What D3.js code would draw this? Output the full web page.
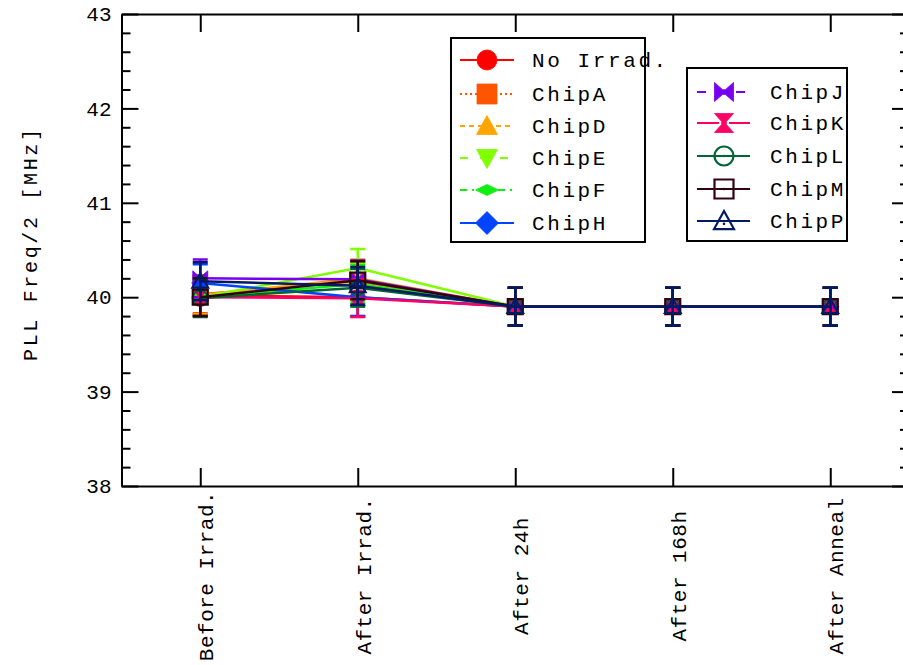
<!DOCTYPE html>
<html>
<head>
<meta charset="utf-8">
<script src="https://cdn.jsdelivr.net/npm/d3@7"></script>
<style>
  html, body { margin: 0; padding: 0; background: #fff; }
  svg { display: block; }
  text { font-family: "Liberation Mono", "DejaVu Sans Mono", monospace; fill: #000; }
</style>
</head>
<body>
<svg id="chart" width="903" height="665"></svg>
<script>
// Measurement stages
const stages = ["Before Irrad.", "After Irrad.", "After 24h", "After 168h", "After Anneal"];

// PLL frequency / 2 [MHz] per chip at each stage
const noIrrad = [40.02, 40.00, 39.90, 39.90, 39.90];
const chipA   = [40.03, 40.17, 39.90, 39.90, 39.90];
const chipD   = [40.02, 40.20, 39.90, 39.90, 39.90];
const chipE   = [40.00, 40.31, 39.90, 39.90, 39.90];
const chipF   = [40.00, 40.14, 39.90, 39.90, 39.90];
const chipH   = [40.15, 40.00, 39.90, 39.90, 39.90];
const chipJ   = [40.20, 40.19, 39.90, 39.90, 39.90];
const chipK   = [40.00, 39.99, 39.90, 39.90, 39.90];
const chipL   = [39.99, 40.10, 39.90, 39.90, 39.90];
const chipM   = [40.00, 40.18, 39.90, 39.90, 39.90];
const chipP   = [40.17, 40.12, 39.90, 39.90, 39.90];

// Measurement uncertainty (same for every stage)
const errors  = [0.20, 0.20, 0.20, 0.20, 0.20];

// Axis ticks
const yMajorTicks = [38, 39, 40, 41, 42, 43];

const series = [
  { name: "No Irrad.", values: noIrrad, color: "#ff0000", dash: null,        marker: "circle" },
  { name: "ChipA",     values: chipA,   color: "#ff5500", dash: "2,3",       marker: "square" },
  { name: "ChipD",     values: chipD,   color: "#ffa500", dash: "5,4",       marker: "triUp" },
  { name: "ChipE",     values: chipE,   color: "#80ff00", dash: "8,12",      marker: "triDown" },
  { name: "ChipF",     values: chipF,   color: "#11ee11", dash: "7,5,2,5",   marker: "flatDiamond" },
  { name: "ChipH",     values: chipH,   color: "#0044ff", dash: null,        marker: "diamond" },
  { name: "ChipJ",     values: chipJ,   color: "#7700ee", dash: "9,30",      marker: "bowtie" },
  { name: "ChipK",     values: chipK,   color: "#ff0066", dash: "22,10",     marker: "hourglass" },
  { name: "ChipL",     values: chipL,   color: "#006633", dash: null,        marker: "openCircle" },
  { name: "ChipM",     values: chipM,   color: "#330011", dash: null,        marker: "openSquare" },
  { name: "ChipP",     values: chipP,   color: "#001a66", dash: null,        marker: "openTriangle" }
];

const svg = d3.select("#chart");
const W = 903, H = 665;
const plot = { left: 121.5, right: 909, top: 14, bottom: 486 };

const x = d3.scalePoint().domain(stages).range([plot.left, plot.right]).padding(0.5);
const y = d3.scaleLinear().domain([38, 43]).range([plot.bottom, plot.top]);

// Minor ticks every 0.2 MHz
const yMinorTicks = d3.range(38, 43.0001, 0.2).map(v => +v.toFixed(1)).filter(v => !yMajorTicks.includes(v));

// Marker path generator, s = half-size
function markerPath(type, s) {
  const p = d3.path();
  switch (type) {
    case "circle":
    case "openCircle":
      p.arc(0, 0, s, 0, 2 * Math.PI); p.closePath(); break;
    case "square":
    case "openSquare":
      p.rect(-s, -s, 2 * s, 2 * s); break;
    case "triUp":
    case "openTriangle":
      p.moveTo(0, -s * 1.05); p.lineTo(s * 1.05, s * 0.85); p.lineTo(-s * 1.05, s * 0.85); p.closePath(); break;
    case "triDown":
      p.moveTo(0, s * 1.05); p.lineTo(s * 1.05, -s * 0.85); p.lineTo(-s * 1.05, -s * 0.85); p.closePath(); break;
    case "flatDiamond":
      p.moveTo(-s * 1.15, 0); p.lineTo(0, -s * 0.55); p.lineTo(s * 1.15, 0); p.lineTo(0, s * 0.55); p.closePath(); break;
    case "diamond":
      p.moveTo(-s * 1.15, 0); p.lineTo(0, -s * 1.15); p.lineTo(s * 1.15, 0); p.lineTo(0, s * 1.15); p.closePath(); break;
    case "bowtie":
      p.moveTo(-s, -s); p.lineTo(-s * 0.15, -s * 0.25); p.lineTo(s * 0.15, -s * 0.25); p.lineTo(s, -s);
      p.lineTo(s, s); p.lineTo(s * 0.15, s * 0.25); p.lineTo(-s * 0.15, s * 0.25); p.lineTo(-s, s); p.closePath(); break;
    case "hourglass":
      p.moveTo(-s, -s); p.lineTo(s, -s); p.lineTo(s * 0.25, -s * 0.15); p.lineTo(s * 0.25, s * 0.15);
      p.lineTo(s, s); p.lineTo(-s, s); p.lineTo(-s * 0.25, s * 0.15); p.lineTo(-s * 0.25, -s * 0.15); p.closePath(); break;
  }
  return p.toString();
}
const isOpen = t => t.startsWith("open");

function drawMarker(g, type, color, s, cx, cy) {
  const open = isOpen(type);
  const m = g.append("g").attr("transform", `translate(${cx},${cy})`);
  m.append("path")
    .attr("d", markerPath(type, s))
    .attr("fill", open ? "none" : color)
    .attr("stroke", color)
    .attr("stroke-width", open ? 2.2 : 0.8)
    .attr("stroke-linejoin", "miter");
  if (open) {
    m.append("circle").attr("cx", 0).attr("cy", type === "openTriangle" ? s * 0.3 : 0).attr("r", 1.3).attr("fill", color);
  }
}

// Clip region for the plot frame
svg.append("defs").append("clipPath").attr("id", "plotClip")
  .append("rect").attr("x", plot.left).attr("y", plot.top)
  .attr("width", plot.right - plot.left).attr("height", plot.bottom - plot.top);

const data = svg.append("g").attr("clip-path", "url(#plotClip)");
const line = d3.line().x((d, i) => x(stages[i])).y(d => y(d));
const capW = 7.5;

series.forEach(s => {
  const g = data.append("g");
  // error bars
  s.values.forEach((v, i) => {
    const cx = x(stages[i]);
    const e = errors[i];
    g.append("line").attr("x1", cx).attr("x2", cx).attr("y1", y(v - e)).attr("y2", y(v + e))
      .attr("stroke", s.color).attr("stroke-width", 2.5);
    [v - e, v + e].forEach(t => {
      g.append("line").attr("x1", cx - capW).attr("x2", cx + capW).attr("y1", y(t)).attr("y2", y(t))
        .attr("stroke", s.color).attr("stroke-width", 2.5);
    });
  });
  // connecting line
  g.append("path").datum(s.values).attr("d", line)
    .attr("fill", "none").attr("stroke", s.color).attr("stroke-width", 2.5);
  // markers
  s.values.forEach((v, i) => drawMarker(g, s.marker, s.color, 7.5, x(stages[i]), y(v)));
});

// Axes
const axes = svg.append("g");
axes.append("g").attr("transform", `translate(${plot.left},0)`)
  .call(d3.axisLeft(y).tickValues(yMajorTicks).tickSizeInner(-17).tickSizeOuter(0).tickPadding(10).tickFormat(d3.format("d")))
  .call(g => g.selectAll("text").style("font-size", "21px").attr("font-family", null));
axes.append("g").attr("transform", `translate(${plot.left},0)`)
  .call(d3.axisLeft(y).tickValues(yMinorTicks).tickSizeInner(-9).tickSizeOuter(0).tickFormat(""));
axes.append("g").attr("transform", `translate(${plot.right},0)`)
  .call(d3.axisRight(y).tickValues(yMajorTicks).tickSizeInner(-17).tickSizeOuter(0).tickFormat(""));
axes.append("g").attr("transform", `translate(${plot.right},0)`)
  .call(d3.axisRight(y).tickValues(yMinorTicks).tickSizeInner(-9).tickSizeOuter(0).tickFormat(""));
axes.append("g").attr("transform", `translate(0,${plot.bottom})`)
  .call(d3.axisBottom(x).tickSizeInner(-18).tickSizeOuter(0).tickFormat(""));
axes.append("g").attr("transform", `translate(0,${plot.top})`)
  .call(d3.axisTop(x).tickSizeInner(-18).tickSizeOuter(0).tickFormat(""));
axes.selectAll(".domain").attr("stroke", "#000").attr("stroke-width", 2);
axes.selectAll(".tick line").attr("stroke", "#000").attr("stroke-width", 2);

// Category labels (rotated)
svg.append("g").selectAll("text").data(stages).join("text")
  .attr("transform", d => `translate(${x(d) + 13},576) rotate(-90)`)
  .attr("text-anchor", "middle")
  .style("font-size", "21px")
  .style("letter-spacing", "0.5px")
  .text(d => d);

// Y axis title
svg.append("text")
  .attr("transform", "translate(37,245) rotate(-90)")
  .attr("text-anchor", "middle")
  .style("font-size", "20px")
  .attr("textLength", 232)
  .attr("lengthAdjust", "spacing")
  .text("PLL Freq/2 [MHz]");

// Legends
function drawLegend(items, box, rows, lineX, markerX, textX, clipText, mSize) {
  const g = svg.append("g");
  const id = "lg" + Math.round(box.x);
  if (clipText) {
    svg.select("defs").append("clipPath").attr("id", id)
      .append("rect").attr("x", box.x).attr("y", box.y).attr("width", box.w).attr("height", box.h);
  }
  g.append("rect").attr("x", box.x).attr("y", box.y).attr("width", box.w).attr("height", box.h)
    .attr("fill", "#fff").attr("stroke", "none");
  items.forEach((s, i) => {
    const cy = rows[i];
    g.append("line").attr("x1", lineX[0]).attr("x2", lineX[1]).attr("y1", cy).attr("y2", cy)
      .attr("stroke", s.color).attr("stroke-width", 2).attr("stroke-dasharray", s.dash);
    drawMarker(g, s.marker, s.color, mSize, markerX, cy);
    const t = g.append("text").attr("x", textX).attr("y", cy + 7)
      .style("font-size", "21px").style("letter-spacing", "2.6px").text(s.name);
    if (clipText) t.attr("clip-path", `url(#${id})`);
  });
  g.append("rect").attr("x", box.x).attr("y", box.y).attr("width", box.w).attr("height", box.h)
    .attr("fill", "none").attr("stroke", "#000").attr("stroke-width", 2);
}

drawLegend(series.slice(0, 6), { x: 451, y: 38, w: 194, h: 204 },
  [60, 94, 126, 158, 190, 223], [460, 514], 487, 532, false, 10);
drawLegend(series.slice(6), { x: 687, y: 68, w: 160, h: 173 },
  [92, 123, 156, 189, 221], [697, 750], 724, 770, true, 9.5);
</script>
</body>
</html>
